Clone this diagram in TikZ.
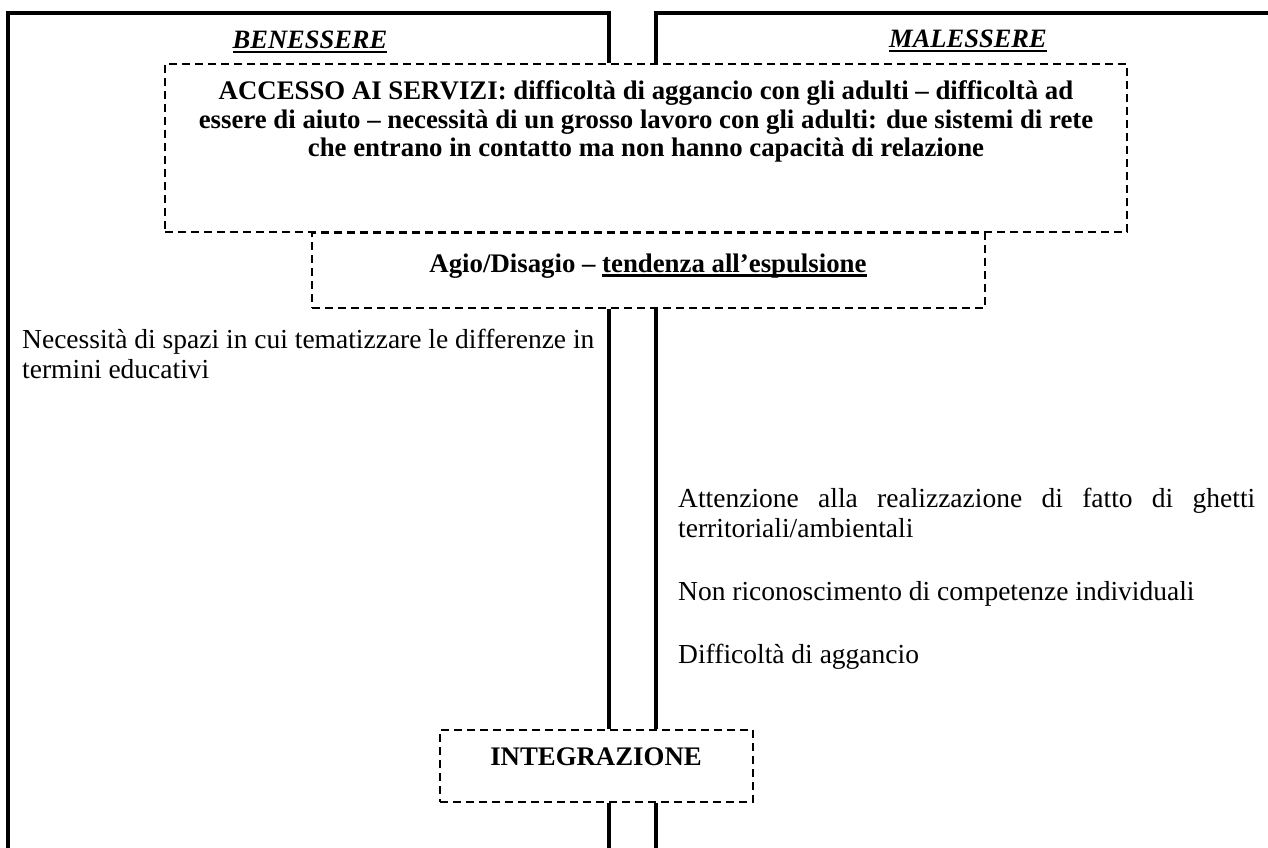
\documentclass[tikz,border=0pt]{standalone}
\usepackage{fontspec}
\setmainfont{Liberation Serif}
\usetikzlibrary{calc}
% heavy underline as used in the headings
\newcommand\heavyul[1]{\setbox0\hbox{#1}\rlap{\raisebox{-4.5pt}{\rule{\wd0}{2.6pt}}}\box0}
\begin{document}
\begin{tikzpicture}[x=1pt,y=-1pt,
  frame/.style={line width=4pt},
  dbox/.style={draw, line width=1.6pt, dash pattern=on 8pt off 5pt, inner sep=0pt},
  body/.style={font=\fontsize{27.5}{29.5}\selectfont, inner sep=0pt},
  boldtxt/.style={font=\fontsize{26.8}{28}\selectfont\bfseries, align=center, inner sep=0pt},
  head/.style={font=\fontsize{26.5}{28}\selectfont\bfseries\itshape, inner sep=0pt, anchor=base},
]
\useasboundingbox (0,0) rectangle (1268,848);

% column separators of the two panels
\coordinate (L) at (609,0);
\coordinate (R) at (656,0);

% dashed boxes
\node[dbox, minimum width=962pt, minimum height=168pt] (acc) at (646,148) {};
\node[dbox, minimum width=673pt, minimum height=75pt] (agio) at (648.5,270.5) {};
\node[dbox, minimum width=313pt, minimum height=72pt] (integ) at (596.5,766) {};

% panel frames
\draw[frame] (8,852) -- (8,13) -- (L |- 0,13) -- (L |- acc.north);
\draw[frame] (R |- acc.north) -- (R |- 0,13) -- (1272,13);
\draw[frame] (L |- agio.south) -- (L |- integ.north);
\draw[frame] (R |- agio.south) -- (R |- integ.north);
\draw[frame] (L |- integ.south) -- (L |- 0,852);
\draw[frame] (R |- integ.south) -- (R |- 0,852);

% headings
\node[head] (ben) at (310,49) {\heavyul{BENESSERE}};
\node[head] (mal) at (968,48) {\heavyul{MALESSERE}};

% box texts (base anchor sits on the last line)
\node[boldtxt, anchor=base] (acct) at (646,156) {ACCESSO AI SERVIZI: difficoltà di aggancio con gli adulti – difficoltà ad\\
essere di aiuto – necessità di un grosso lavoro con gli adulti: due sistemi di rete\\
che entrano in contatto ma non hanno capacità di relazione};
\node[boldtxt, anchor=base] (agiot) at (648,272) {Agio/Disagio – \heavyul{tendenza all’espulsione}};
\node[boldtxt, anchor=base] (integt) at (596,765) {INTEGRAZIONE};

% left column notes
\node[body, anchor=base west, align=left] (n1) at (22,378)
  {Necessità di spazi in cui tematizzare le differenze in\\termini educativi};

% right column notes
\node[body, anchor=base west, align=left] (m1) at (678,537)
  {\makebox[577pt][s]{Attenzione alla realizzazione di fatto di ghetti}\\territoriali/ambientali};
\node[body, anchor=base west] (m2) at (678,600) {Non riconoscimento di competenze individuali};
\node[body, anchor=base west] (m3) at (678,663) {Difficoltà di aggancio};
\end{tikzpicture}
\end{document}
